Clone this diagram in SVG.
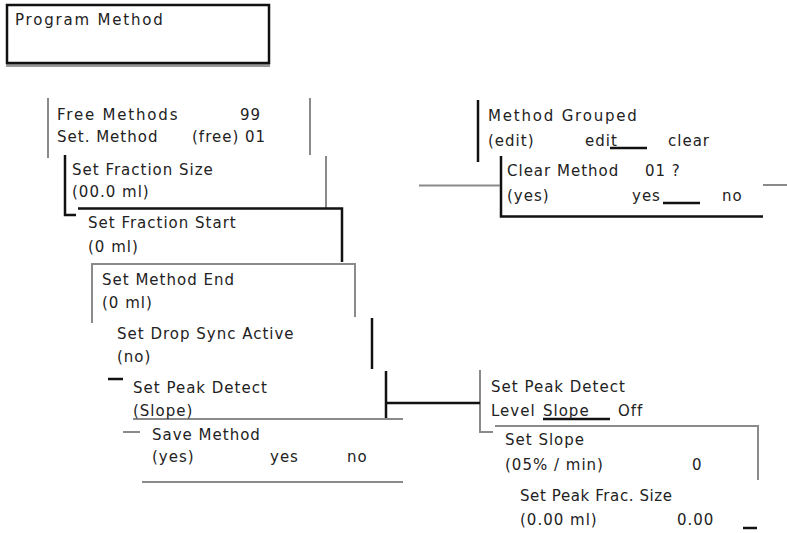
<svg xmlns="http://www.w3.org/2000/svg" width="787" height="533" viewBox="0 0 787 533">
<style>
text{font-family:"DejaVu Sans","Liberation Sans",sans-serif;font-size:15px;letter-spacing:1px;fill:#222}
.w{letter-spacing:1.8px}
.g{stroke:#8a8a8a;stroke-width:2;fill:none}
.k{stroke:#111;stroke-width:2.5;fill:none}
</style>
<rect width="787" height="533" fill="#fff"/>
<g id="program-method">
<line x1="6" y1="65.5" x2="270" y2="65.5" stroke="#999" stroke-width="3"/>
<rect x="7" y="5" width="262" height="58" class="k"/>
<text x="15" y="25" class="w">Program Method</text>
</g>
<g id="free-methods">
<path class="g" d="M48 98V158M310 98V155"/>
<text x="57" y="120" class="w">Free Methods</text>
<text x="240" y="120">99</text>
<text x="57" y="142">Set. Method</text>
<text x="192" y="142">(free) 01</text>
</g>
<g id="fraction-size">
<path class="k" d="M65 155V215H76" stroke="#333" stroke-width="2"/>
<path class="g" d="M326 156V208"/>
<text x="72" y="175">Set Fraction Size</text>
<text x="72" y="197">(00.0 ml)</text>
</g>
<g id="fraction-start">
<path class="k" d="M78 208.5H342V262"/>
<text x="88" y="228">Set Fraction Start</text>
<text x="88" y="252">(0 ml)</text>
</g>
<g id="method-end">
<path class="g" d="M92 323V264H355V317"/>
<text x="102" y="285">Set Method End</text>
<text x="102" y="308">(0 ml)</text>
</g>
<g id="drop-sync">
<path class="k" d="M372 318V369"/>
<text x="117" y="339">Set Drop Sync Active</text>
<text x="117" y="362">(no)</text>
</g>
<g id="peak-detect">
<path class="k" d="M108 379H123M386 371V418"/>
<path class="g" d="M133 419H403"/>
<text x="133" y="393">Set Peak Detect</text>
<text x="133" y="416">(Slope)</text>
</g>
<g id="save-method">
<path class="g" d="M123 432H140M142 482H403"/>
<text x="152" y="440">Save Method</text>
<text x="152" y="462">(yes)</text>
<text x="270" y="462">yes</text>
<text x="347" y="462">no</text>
</g>
<g id="method-grouped">
<path class="k" d="M478 100V162"/>
<path class="k" d="M610 148H647" stroke-width="1.5"/>
<text x="488" y="121" class="w">Method Grouped</text>
<text x="488" y="146">(edit)</text>
<text x="585" y="146">edit</text>
<text x="668" y="146">clear</text>
</g>
<g id="clear-method">
<path class="k" d="M501 156V216.5H763"/>
<path class="k" d="M663 203H700" stroke-width="1.5"/>
<text x="507" y="176">Clear Method</text>
<text x="645" y="176">01 ?</text>
<text x="507" y="201">(yes)</text>
<text x="632" y="201">yes</text>
<text x="722" y="201">no</text>
</g>
<g id="peak-detect-level">
<path class="g" d="M480 370V432H493"/>
<path class="k" d="M543 419H610" stroke-width="1.5"/>
<text x="491" y="392">Set Peak Detect</text>
<text x="491" y="416">Level</text>
<text x="543" y="416">Slope</text>
<text x="618" y="416">Off</text>
</g>
<g id="set-slope">
<path class="g" d="M495 426H758V480"/>
<text x="505" y="445">Set Slope</text>
<text x="505" y="470">(05% / min)</text>
<text x="692" y="470">0</text>
</g>
<g id="peak-frac-size">
<path class="k" d="M743 528H757" stroke-width="2"/>
<text x="520" y="501" style="letter-spacing:0.6px">Set Peak Frac. Size</text>
<text x="520" y="525">(0.00 ml)</text>
<text x="677" y="525">0.00</text>
</g>
<g id="connectors">
<path class="k" d="M386 403H480"/>
<path class="g" d="M419 185.5H500M763 185H787"/>
</g>
</svg>
